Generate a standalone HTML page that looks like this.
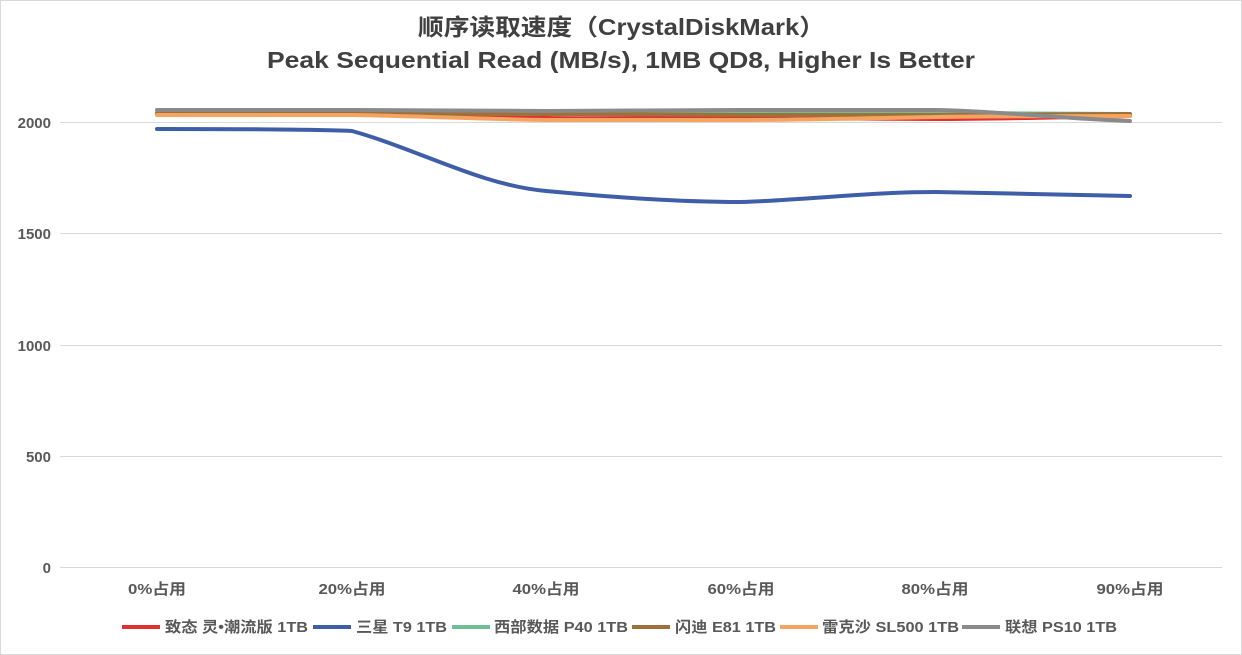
<!DOCTYPE html>
<html><head><meta charset="utf-8"><style>
body{margin:0;background:#fff}
svg{display:block;font-family:"Liberation Sans","Noto Sans CJK SC",sans-serif}
</style></head><body>
<svg width="1242" height="655" viewBox="0 0 1242 655">
<rect x="0.5" y="0.5" width="1241" height="654" fill="#fff" stroke="#d9d9d9"/>
<text x="418" y="35" font-size="23" font-weight="bold" fill="#404040" textLength="407" lengthAdjust="spacingAndGlyphs">顺序读取速度（CrystalDiskMark）</text>
<text x="267" y="68" font-size="23" font-weight="bold" fill="#404040" textLength="708" lengthAdjust="spacingAndGlyphs">Peak Sequential Read (MB/s), 1MB QD8, Higher Is Better</text>
<g stroke="#d9d9d9" stroke-width="1">
<line x1="60" x2="1222" y1="122.5" y2="122.5"/>
<line x1="60" x2="1222" y1="233.5" y2="233.5"/>
<line x1="60" x2="1222" y1="345.5" y2="345.5"/>
<line x1="60" x2="1222" y1="456.5" y2="456.5"/>
<line x1="60" x2="1222" y1="567.5" y2="567.5"/>
</g>
<g font-size="15" font-weight="bold" fill="#595959" text-anchor="end">
<text x="51" y="128">2000</text><text x="51" y="239">1500</text><text x="51" y="351">1000</text><text x="51" y="462">500</text><text x="51" y="573">0</text>
</g>
<g font-size="15" font-weight="bold" fill="#595959" text-anchor="middle">
<text x="157" y="594" textLength="58" lengthAdjust="spacingAndGlyphs">0%占用</text>
<text x="352" y="594" textLength="67" lengthAdjust="spacingAndGlyphs">20%占用</text>
<text x="546" y="594" textLength="67" lengthAdjust="spacingAndGlyphs">40%占用</text>
<text x="741" y="594" textLength="67" lengthAdjust="spacingAndGlyphs">60%占用</text>
<text x="935" y="594" textLength="67" lengthAdjust="spacingAndGlyphs">80%占用</text>
<text x="1130" y="594" textLength="67" lengthAdjust="spacingAndGlyphs">90%占用</text>
</g>
<g fill="none" stroke-width="4" stroke-linejoin="round" stroke-linecap="round">
<path stroke="#e03030" d="M157,114 C222,114 287,114 352,114 C417,114 481,117 546,118 C611,119 676,118 741,118 C806,118 870,119 935,119 C1000,119 1065,117 1130,116"/>
<path stroke="#6dbf94" d="M157,113 C222,113 287,113 352,113 C417,113 481,114 546,114 C611,114 676,114 741,114 C806,114 870,113 935,113 C1000,113 1065,114 1130,114"/>
<path stroke="#a0703a" d="M157,113 C222,113 287,113 352,113 C417,113 481,114 546,114 C611,114 676,115 741,115 C806,115 870,115 935,115 C1000,115 1065,114 1130,114"/>
<path stroke="#f4a460" d="M157,115 C222,115 287,115 352,115 C417,116 481,119 546,120 C611,120 676,120 741,120 C806,120 870,118 935,117 C1000,116 1065,116 1130,116"/>
<path stroke="#8a8a8a" d="M157,110 C222,110 287,110 352,110 C417,110 481,111 546,111 C611,111 676,110 741,110 C806,110 870,110 935,110 C1000,111 1065,119 1130,121"/>
<path stroke="#3f5ea8" d="M157,129 C222,129 300,129 352,131 C420,150 480,185 546,191 C611,197 676,202 741,202 C806,200 870,192 935,192 C1000,193 1065,195 1130,196"/>
</g>
<g font-size="15" font-weight="bold" fill="#595959">
<line x1="122" x2="160" y1="627" y2="627" stroke="#e03030" stroke-width="4"/><text x="165" y="632" textLength="143" lengthAdjust="spacingAndGlyphs">致态 灵•潮流版 1TB</text>
<line x1="313" x2="351" y1="627" y2="627" stroke="#3f5ea8" stroke-width="4"/><text x="356" y="632" textLength="91" lengthAdjust="spacingAndGlyphs">三星 T9 1TB</text>
<line x1="452" x2="490" y1="627" y2="627" stroke="#6dbf94" stroke-width="4"/><text x="494" y="632" textLength="134" lengthAdjust="spacingAndGlyphs">西部数据 P40 1TB</text>
<line x1="632" x2="670" y1="627" y2="627" stroke="#a0703a" stroke-width="4"/><text x="675" y="632" textLength="101" lengthAdjust="spacingAndGlyphs">闪迪 E81 1TB</text>
<line x1="780" x2="818" y1="627" y2="627" stroke="#f4a460" stroke-width="4"/><text x="822" y="632" textLength="137" lengthAdjust="spacingAndGlyphs">雷克沙 SL500 1TB</text>
<line x1="962" x2="1000" y1="627" y2="627" stroke="#8a8a8a" stroke-width="4"/><text x="1005" y="632" textLength="112" lengthAdjust="spacingAndGlyphs">联想 PS10 1TB</text>
</g>
</svg>
</body></html>
